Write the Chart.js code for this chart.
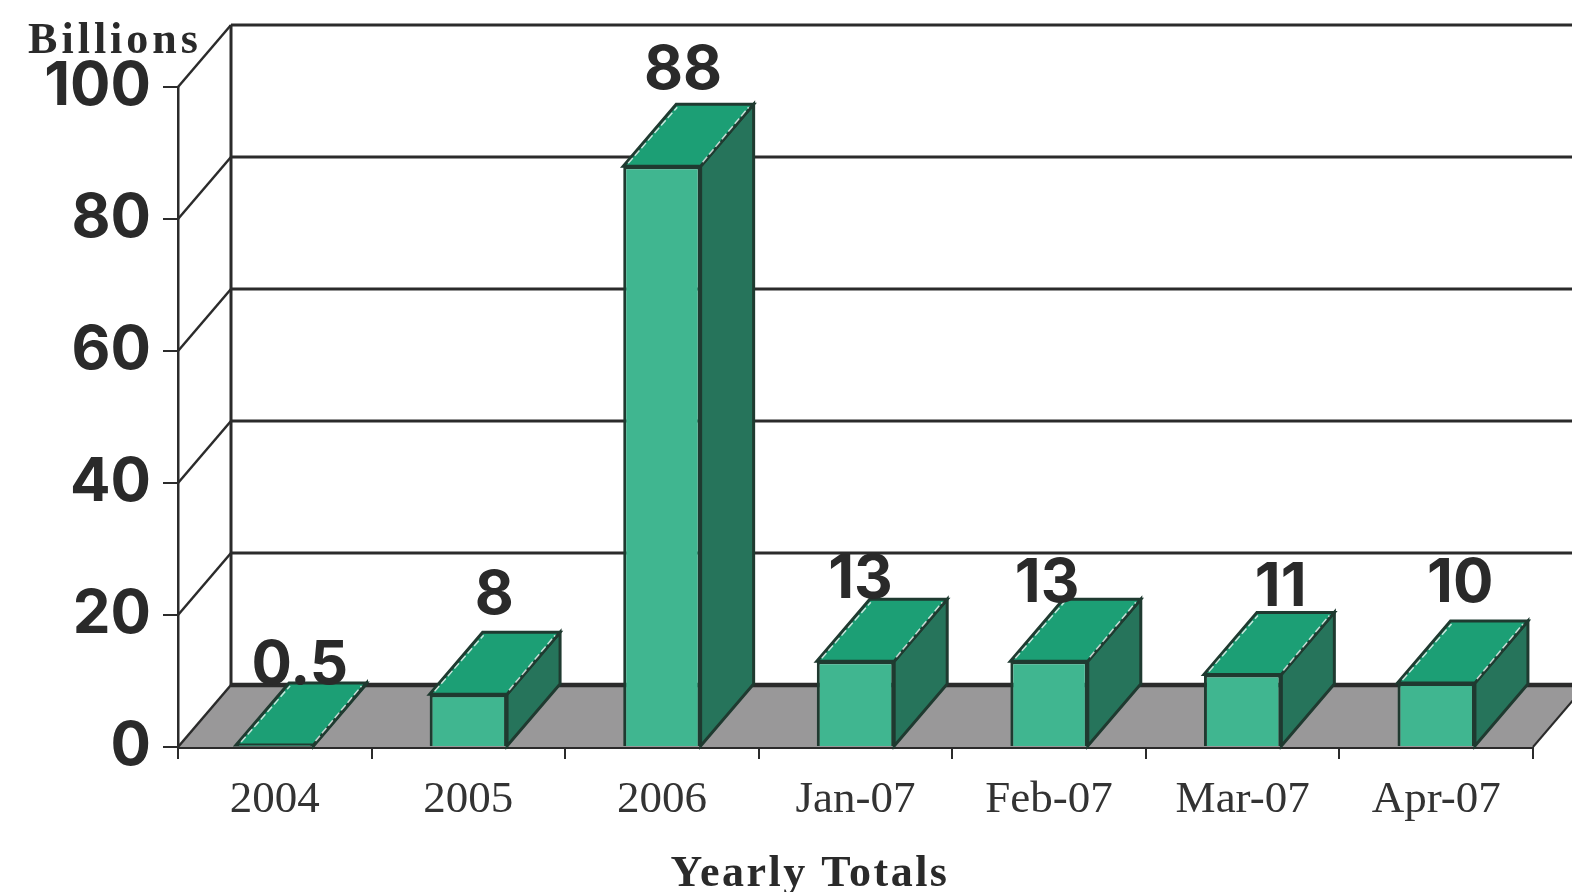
<!DOCTYPE html>
<html>
<head>
<meta charset="utf-8">
<title>Yearly Totals</title>
<script src="https://cdn.jsdelivr.net/npm/chart.js@4"></script>
<style>
  html, body { margin: 0; background: #fff; }
  #wrap { width: 1572px; height: 892px; }
</style>
</head>
<body>
<div id="wrap"><canvas id="myChart" width="1572" height="892"></canvas></div>
<script>
const categories = ['2004', '2005', '2006', 'Jan-07', 'Feb-07', 'Mar-07', 'Apr-07'];
const billions = [0.3, 8, 88, 13, 13, 11, 9.7];
const valueLabels = ['0.5', '8', '88', '13', '13', '11', '10'];
const yTicks = [0, 20, 40, 60, 80, 100];
const unitLabel = 'Billions';
const axisTitle = 'Yearly Totals';

// where each value label sits, relative to the back edge of its bar top
const labelShiftX = [25, 26, 21, 5, -2, 38, 24];
const labelShiftY = [1, -18, -15, -1, 3, -6, -19];

// depth of the fake 3D box
const depthX = 53;
const depthY = 62;

const lineColor = '#2b2b2b';
const textColor = '#2a2a2a';
const frontColor = '#40b690';
const topColor = '#1c9f75';
const sideColor = '#26745b';
const floorColor = '#999899';

function poly(ctx, points, fill, stroke, width) {
    ctx.beginPath();
    points.forEach((p, i) => i ? ctx.lineTo(p[0], p[1]) : ctx.moveTo(p[0], p[1]));
    ctx.closePath();
    if (fill) {
        ctx.fillStyle = fill;
        ctx.fill();
    }
    if (stroke) {
        ctx.strokeStyle = stroke;
        ctx.lineWidth = width;
        ctx.stroke();
    }
}

function line(ctx, x1, y1, x2, y2, width, color) {
    ctx.beginPath();
    ctx.moveTo(x1, y1);
    ctx.lineTo(x2, y2);
    ctx.lineWidth = width;
    ctx.strokeStyle = color || lineColor;
    ctx.stroke();
}

const box3d = {
    id: 'box3d',
    beforeDatasetsDraw(chart) {
        const ctx = chart.ctx;
        const yScale = chart.scales.y;
        const area = chart.chartArea;
        const zero = yScale.getPixelForValue(0);
        ctx.save();

        // floor
        poly(ctx, [
            [area.left, zero],
            [area.right, zero],
            [area.right + depthX, zero - depthY],
            [area.left + depthX, zero - depthY]
        ], floorColor);

        // back wall and side wall lines
        yTicks.forEach((v) => {
            const py = yScale.getPixelForValue(v);
            line(ctx, area.left, py, area.left + depthX, py - depthY, 2.5);
            line(ctx, area.left + depthX, py - depthY, chart.width, py - depthY, v === 0 ? 4.5 : 3);
        });
        line(ctx, area.left + depthX, area.top - depthY, area.left + depthX, zero - depthY, 3);
        line(ctx, area.right, zero, area.right + depthX, zero - depthY, 2);

        // side and top of every bar, the front comes from the library
        chart.getDatasetMeta(0).data.forEach((bar) => {
            const left = bar.x - bar.width / 2;
            const right = bar.x + bar.width / 2;
            const dark = '#1f3a30';
            poly(ctx, [
                [right, bar.y],
                [right + depthX, bar.y - depthY],
                [right + depthX, bar.base - depthY],
                [right, bar.base]
            ], sideColor, dark, 3);
            poly(ctx, [
                [left, bar.y],
                [right, bar.y],
                [right + depthX, bar.y - depthY],
                [left + depthX, bar.y - depthY]
            ], topColor, dark, 3);

            // pale edge highlights
            ctx.setLineDash([7, 3]);
            line(ctx, left + 5, bar.y - 3, left + depthX + 1, bar.y - depthY + 3, 1.5, 'rgba(255,255,255,0.75)');
            line(ctx, right + 2, bar.y - 4, right + depthX - 5, bar.y - depthY + 3, 1.5, 'rgba(255,255,255,0.75)');
            ctx.setLineDash([]);
        });
        ctx.restore();
    },
    afterDatasetsDraw(chart) {
        const ctx = chart.ctx;
        ctx.save();
        ctx.fillStyle = textColor;

        ctx.font = 'bold 60px Inter';
        ctx.textAlign = 'center';
        ctx.textBaseline = 'alphabetic';
        chart.getDatasetMeta(0).data.forEach((bar, i) => {
            ctx.fillText(valueLabels[i], bar.x + labelShiftX[i], bar.y - depthY + labelShiftY[i]);
        });

        ctx.font = 'bold 44px "Liberation Serif"';
        ctx.letterSpacing = '4px';
        ctx.fillText(unitLabel, 115, 53);
        ctx.letterSpacing = '2.5px';
        ctx.fillText(axisTitle, 810, 886);
        ctx.restore();
    }
};

const ctx = document.getElementById('myChart').getContext('2d');
const myChart = new Chart(ctx, {
    type: 'bar',
    data: {
        labels: categories,
        datasets: [{
            data: billions,
            backgroundColor: frontColor,
            borderColor: '#1f3a30',
            borderWidth: 3,
            barPercentage: 1,
            categoryPercentage: 0.4
        }]
    },
    options: {
        responsive: false,
        animation: false,
        layout: { padding: { top: 87, right: 39, left: 0, bottom: 0 } },
        plugins: { legend: { display: false }, tooltip: { enabled: false } },
        scales: {
            y: {
                min: 0,
                max: 100,
                afterFit: (scale) => { scale.width = 178; },
                afterBuildTicks: (scale) => { scale.ticks = yTicks.map((v) => ({ value: v })); },
                border: { color: lineColor, width: 2.5 },
                grid: { drawOnChartArea: false, color: lineColor, lineWidth: 2, tickLength: 15 },
                ticks: {
                    padding: 12,
                    color: textColor,
                    font: { family: 'Inter', weight: 'bold', size: 60 }
                }
            },
            x: {
                afterFit: (scale) => { scale.height = 145; },
                border: { color: lineColor, width: 3 },
                grid: { drawOnChartArea: false, color: lineColor, lineWidth: 2, tickLength: 12 },
                ticks: {
                    padding: 14,
                    color: '#333',
                    maxRotation: 0,
                    autoSkip: false,
                    font: { family: '"Liberation Serif"', size: 45 }
                }
            }
        }
    },
    plugins: [box3d]
});
</script>
</body>
</html>
